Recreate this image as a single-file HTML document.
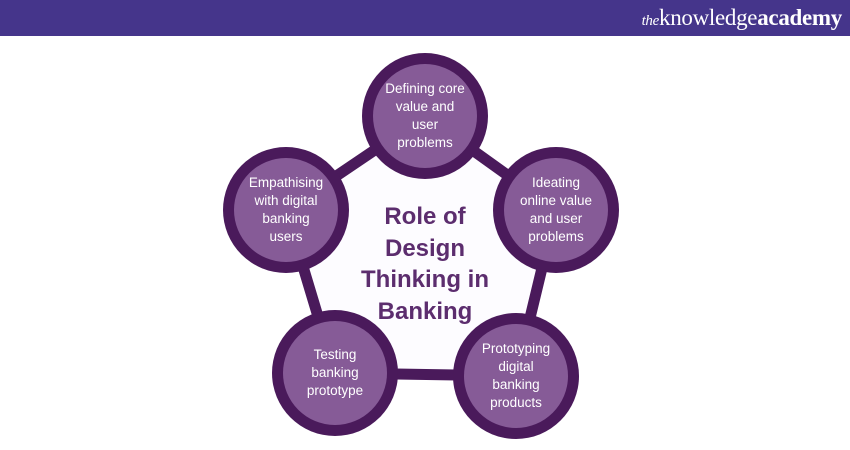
<!DOCTYPE html>
<html><head><meta charset="utf-8"><style>
body{margin:0;width:850px;height:450px;background:#fff;overflow:hidden;position:relative;font-family:"Liberation Sans",sans-serif}
.hdr{position:absolute;left:0;top:0;width:850px;height:36px;background:#45358b}
.logo{position:absolute;right:8px;top:5px;color:#fff;font-family:"Liberation Serif",serif;font-size:23px;letter-spacing:-0.3px}
.logo i{font-size:15px}
.c{position:absolute;width:126px;height:126px;border-radius:50%;background:#4a1a5b;}
.c div{position:absolute;left:11px;top:11px;width:104px;height:104px;border-radius:50%;background:#865b97;color:#fff;font-size:13.5px;line-height:18px;text-align:center;display:flex;align-items:center;justify-content:center}
.t{position:absolute;left:325px;top:201px;width:200px;text-align:center;color:#5c2d6e;font-weight:bold;font-size:24px;line-height:31.5px}
</style></head><body>
<div class="hdr"><div class="logo"><i>the</i>knowledge<span style="font-weight:bold">academy</span></div></div>
<svg width="850" height="450" style="position:absolute;left:0;top:0">
<polygon points="425,116 556,210 516,376 335,373 286,210" fill="#fdfcff" stroke="#4a1a5b" stroke-width="11" stroke-linejoin="round"/>
</svg>
<div class="c" style="left:362px;top:53px"><div>Defining core<br>value and<br>user<br>problems</div></div>
<div class="c" style="left:223px;top:147px"><div>Empathising<br>with digital<br>banking<br>users</div></div>
<div class="c" style="left:493px;top:147px"><div>Ideating<br>online value<br>and user<br>problems</div></div>
<div class="c" style="left:272px;top:310px"><div>Testing<br>banking<br>prototype</div></div>
<div class="c" style="left:453px;top:313px"><div>Prototyping<br>digital<br>banking<br>products</div></div>
<div class="t">Role of<br>Design<br>Thinking in<br>Banking</div>
</body></html>
